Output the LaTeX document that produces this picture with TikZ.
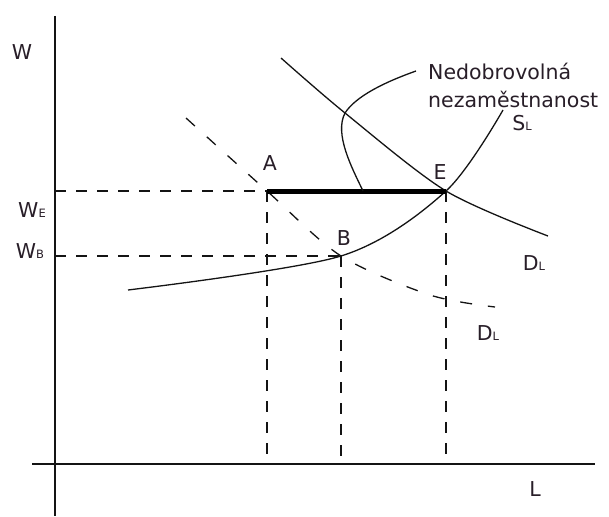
\documentclass[tikz,border=0pt]{standalone}
\usepackage{fontspec}
\setmainfont{DejaVu Sans}
\usetikzlibrary{positioning,calc}
\definecolor{lnclr}{RGB}{20,20,20}
\definecolor{txtclr}{RGB}{40,30,40}
\newcommand{\sublbl}[2]{#1{\fontsize{11.5}{13}\selectfont #2}}
\tikzset{
  axis/.style={line width=1.8pt,color=lnclr},
  crv/.style={line width=1.3pt,color=lnclr},
  dcrv/.style={line width=1.3pt,color=lnclr,dash pattern=on 12pt off 16pt},
  guide/.style={line width=1.3pt,color=lnclr,dash pattern=on 11pt off 10pt},
  gap/.style={line width=5pt,color=black},
  lbl/.style={font=\fontsize{20.5}{28}\selectfont,text=txtclr,inner sep=1pt},
}
\begin{document}
\begin{tikzpicture}[x=1pt,y=-1pt]
  \useasboundingbox (0,0) rectangle (609,516);

  %% Key points
  \coordinate (O) at (55,464);
  \coordinate (A) at (267,191);
  \coordinate (B) at (341,256);
  \coordinate (E) at (446,191);
  \coordinate (K) at (345,113);
  \coordinate (M) at (363,191);
  \coordinate (wE) at (55,191);
  \coordinate (wB) at (55,256);
  \coordinate (yTop) at (55,16);
  \coordinate (yEnd) at (55,516);
  \coordinate (xBeg) at (32,464);
  \coordinate (xEnd) at (595,464);

  %% Axes
  \draw[axis] (yTop) -- (yEnd);
  \draw[axis] (xBeg) -- (xEnd);

  %% Guide lines
  \draw[guide] (wE) -- (A);
  \draw[guide] (wB) -- (B);
  \draw[guide] (A) -- (A |- O);
  \draw[guide] (B) -- (B |- O);
  \draw[guide] (E) -- (E |- O);

  %% Curves
  \draw[crv] plot[smooth] coordinates {(281,58) (K) (E) (548,236)};
  \draw[dcrv] plot[smooth] coordinates {(186,118) (A) (B) (430,295) (495,307)};
  \draw[crv] plot[smooth] coordinates {(128,290) (B) (E) (503,110)};

  %% Unemployment gap
  \draw[gap] (A) -- (E);
  \draw[crv] (416,71) .. controls (385,82) and (356,96) .. (K);
  \draw[crv] (K) .. controls (334,134) and (352,168) .. (M);

  %% Labels
  \node[lbl] (lW) at (22,52) {W};
  \node[lbl] (lWE) at (32,210) {\sublbl{W}{E}};
  \node[lbl] (lWB) at (30,251) {\sublbl{W}{B}};
  \node[lbl] (lA) at (270,163) {A};
  \node[lbl] (lE) at (440,172) {E};
  \node[lbl] (lB) at (344,238) {B};
  \node[lbl] (lSL) at (522,123) {\sublbl{S}{L}};
  \node[lbl] (lDL) at (534,263) {\sublbl{D}{L}};
  \node[lbl] (lDL2) at (488,333) {\sublbl{D}{L}};
  \node[lbl] (lL) at (535,489) {L};
  \node[lbl,align=left,anchor=west] (lNU) at (427,85)
    {Nedobrovolná\\nezaměstnanost};

\end{tikzpicture}
\end{document}
